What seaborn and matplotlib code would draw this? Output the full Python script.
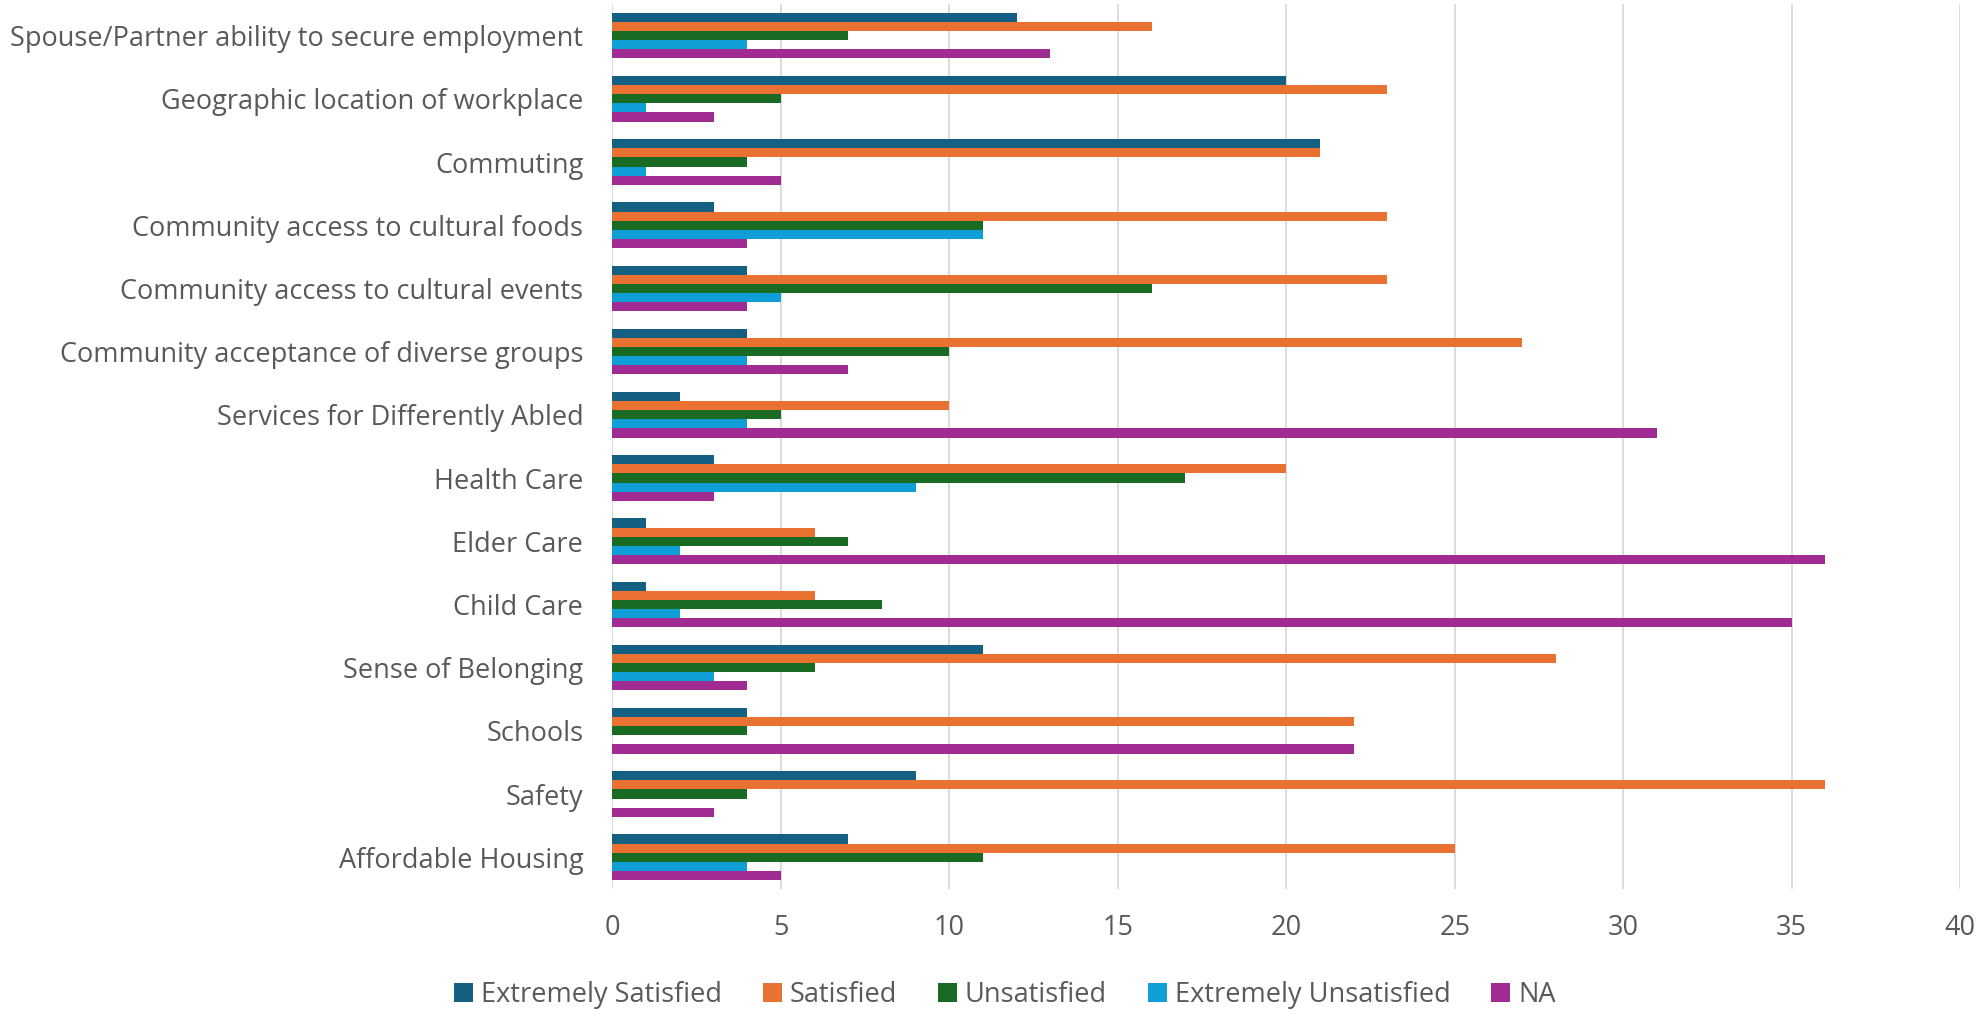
import matplotlib
matplotlib.use("Agg")
import matplotlib.pyplot as plt
import seaborn as sns
import pandas as pd

categories = [
    "Spouse/Partner ability to secure employment",
    "Geographic location of workplace",
    "Commuting",
    "Community access to cultural foods",
    "Community access to cultural events",
    "Community acceptance of diverse groups",
    "Services for Differently Abled",
    "Health Care",
    "Elder Care",
    "Child Care",
    "Sense of Belonging",
    "Schools",
    "Safety",
    "Affordable Housing",
]

extremely_satisfied = [12, 20, 21, 3, 4, 4, 2, 3, 1, 1, 11, 4, 9, 7]
satisfied = [16, 23, 21, 23, 23, 27, 10, 20, 6, 6, 28, 22, 36, 25]
unsatisfied = [7, 5, 4, 11, 16, 10, 5, 17, 7, 8, 6, 4, 4, 11]
extremely_unsatisfied = [4, 1, 1, 11, 5, 4, 4, 9, 2, 2, 3, 0, 0, 4]
not_applicable = [13, 3, 5, 4, 4, 7, 31, 3, 36, 35, 4, 22, 3, 5]

series_names = ["Extremely Satisfied", "Satisfied", "Unsatisfied",
                "Extremely Unsatisfied", "NA"]
series_values = [extremely_satisfied, satisfied, unsatisfied,
                 extremely_unsatisfied, not_applicable]
series_colors = ["#156082", "#E97132", "#196B24", "#0F9ED5", "#A02B93"]

x_ticks = [0, 5, 10, 15, 20, 25, 30, 35, 40]

rows = []
for name, vals in zip(series_names, series_values):
    for cat, v in zip(categories, vals):
        rows.append({"Category": cat, "Response": name, "Count": v})
df = pd.DataFrame(rows)

sns.set_theme(style="white")
plt.rcParams["font.family"] = ["Open Sans", "DejaVu Sans"]
text_color = "#595959"
font_size = 19.5

fig = plt.figure(figsize=(19.82, 10.10), dpi=100)
ax = fig.add_axes([0.309, 0.120, 0.680, 0.876])

sns.barplot(
    data=df, x="Count", y="Category", hue="Response",
    order=categories, hue_order=series_names,
    palette=series_colors, orient="h",
    width=0.72, gap=0, saturation=1, errorbar=None,
    linewidth=0, ax=ax, legend=True,
)

ax.set_xlim(0, 40)
ax.set_xticks(x_ticks)
ax.set_xticklabels([str(t) for t in x_ticks])
ax.set_xlabel("")
ax.set_ylabel("")
ax.set_ylim(len(categories) - 0.5, -0.5)

ax.grid(axis="x", color="#D9D9D9", linewidth=1.3)
ax.grid(axis="y", visible=False)
ax.set_axisbelow(True)
for s in ax.spines.values():
    s.set_visible(False)

ax.tick_params(axis="x", length=0, pad=18, labelsize=font_size, labelcolor=text_color)
ax.tick_params(axis="y", length=0, pad=21, labelsize=font_size, labelcolor=text_color)

handles, labels = ax.get_legend_handles_labels()
ax.get_legend().remove()
fig.legend(
    handles, labels, loc="center", bbox_to_anchor=(0.507, 0.015),
    ncol=5, frameon=False, fontsize=font_size, labelcolor=text_color,
    handlelength=0.7, handleheight=0.7, handletextpad=0.3,
    columnspacing=1.5,
)

fig.savefig("out.png", dpi=100, facecolor="white")
